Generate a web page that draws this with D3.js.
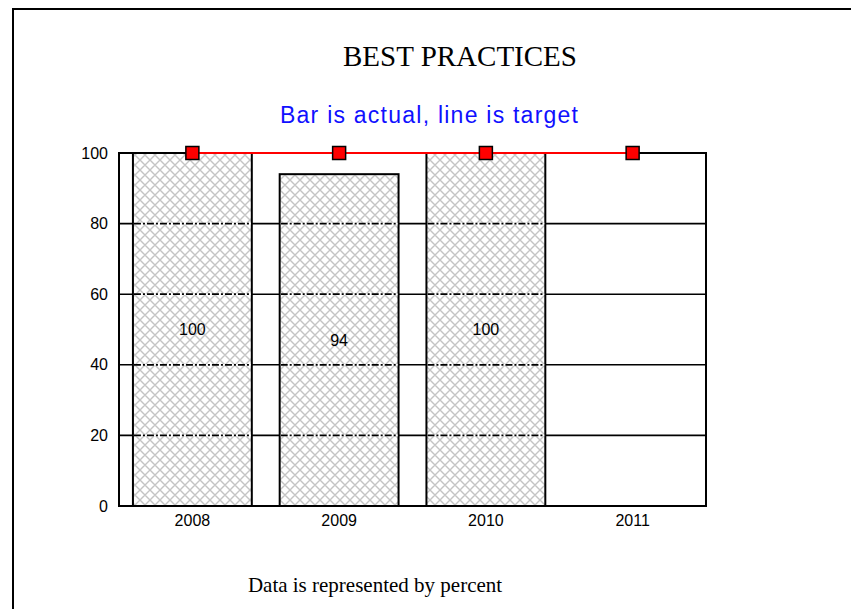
<!DOCTYPE html>
<meta charset="utf-8">
<style>
  body { margin: 0; background: #fff; }
</style>
<script src="https://d3js.org/d3.v7.min.js"></script>

<div id="my_chart"></div>

<script>

// Data
var years = ["2008", "2009", "2010", "2011"];
var actual = [100, 94, 100, null];
var target = [100, 100, 100, 100];
var yTicks = [0, 20, 40, 60, 80, 100];
var gridValues = [20, 40, 60, 80];

var width = 851, height = 609;
var plot = {left: 119, right: 706, top: 153, bottom: 506};

var svg = d3.select("#my_chart")
  .append("svg")
    .attr("width", width)
    .attr("height", height);

// hatch pattern for the bars
var defs = svg.append("defs");
var pat = defs.append("pattern")
    .attr("id", "hatch")
    .attr("patternUnits", "userSpaceOnUse")
    .attr("width", 10)
    .attr("height", 10);
pat.append("rect")
    .attr("width", 10).attr("height", 10)
    .attr("fill", "#fff");
pat.append("path")
    .attr("d", "M0,0 L10,10 M10,0 L0,10 M-5,5 L5,15 M5,-5 L15,5 M5,15 L15,5 M-5,5 L5,-5")
    .attr("stroke", "#c4c4c4")
    .attr("stroke-width", 1.4);

// outer frame (left and top edges only)
svg.append("path")
    .attr("d", "M13," + height + " L13,9 L" + width + ",9")
    .attr("fill", "none")
    .attr("stroke", "#000")
    .attr("stroke-width", 2);

// titles
svg.append("text")
    .attr("x", 460).attr("y", 66)
    .attr("text-anchor", "middle")
    .style("font-family", "'Liberation Serif', 'Times New Roman', serif")
    .style("font-size", "29px")
    .text("BEST PRACTICES");

svg.append("text")
    .attr("x", 280).attr("y", 123)
    .attr("textLength", 298)
    .attr("lengthAdjust", "spacing")
    .attr("fill", "#1010ff")
    .style("font-family", "'Liberation Sans', Arial, sans-serif")
    .style("font-size", "23px")
    .text("Bar is actual, line is target");

svg.append("text")
    .attr("x", 375).attr("y", 592)
    .attr("text-anchor", "middle")
    .style("font-family", "'Liberation Serif', 'Times New Roman', serif")
    .style("font-size", "21px")
    .text("Data is represented by percent");

// scales
var x = d3.scaleBand()
  .domain(years)
  .range([plot.left, plot.right])
  .paddingInner(0.19)
  .paddingOuter(0.095);

var y = d3.scaleLinear()
  .domain([0, 100])
  .range([plot.bottom, plot.top]);

var g = svg.append("g");

// solid grid lines
g.selectAll(".grid")
  .data(gridValues)
  .enter()
  .append("line")
    .attr("x1", plot.left).attr("x2", plot.right)
    .attr("y1", function(d) { return y(d); })
    .attr("y2", function(d) { return y(d); })
    .attr("stroke", "#000")
    .attr("stroke-width", 1.6);

// bars
var barData = years.map(function(d, i) { return {year: d, value: actual[i]}; })
  .filter(function(d) { return d.value != null; });

g.selectAll(".bar")
  .data(barData)
  .enter()
  .append("rect")
    .attr("x", function(d) { return x(d.year); })
    .attr("y", function(d) { return y(d.value); })
    .attr("width", x.bandwidth())
    .attr("height", function(d) { return y(0) - y(d.value); })
    .attr("fill", "url(#hatch)")
    .attr("stroke", "#000")
    .attr("stroke-width", 2);

// dashed grid inside bars
barData.forEach(function(b) {
  gridValues.filter(function(v) { return v < b.value; }).forEach(function(v) {
    g.append("line")
      .attr("x1", x(b.year) + 1).attr("x2", x(b.year) + x.bandwidth() - 1)
      .attr("y1", y(v)).attr("y2", y(v))
      .attr("stroke", "#fff")
      .attr("stroke-width", 1.6);
    g.append("line")
      .attr("x1", x(b.year) + 1).attr("x2", x(b.year) + x.bandwidth() - 1)
      .attr("y1", y(v)).attr("y2", y(v))
      .attr("stroke", "#000")
      .attr("stroke-width", 1.8)
      .attr("stroke-dasharray", "7,2,2,2");
  });
});

// value labels
g.selectAll(".lbl")
  .data(barData)
  .enter()
  .append("text")
    .attr("x", function(d) { return x(d.year) + x.bandwidth() / 2; })
    .attr("y", function(d) { return (y(d.value) + y(0)) / 2; })
    .attr("dy", "0.35em")
    .attr("text-anchor", "middle")
    .style("font-family", "'Liberation Sans', Arial, sans-serif")
    .style("font-size", "16px")
    .text(function(d) { return d.value; });

// plot frame
g.append("rect")
    .attr("x", plot.left).attr("y", plot.top)
    .attr("width", plot.right - plot.left)
    .attr("height", plot.bottom - plot.top)
    .attr("fill", "none")
    .attr("stroke", "#000")
    .attr("stroke-width", 2);

// axes
var yAxis = svg.append("g")
    .attr("transform", "translate(" + plot.left + ",0)")
    .call(d3.axisLeft(y).tickValues(yTicks).tickSize(0).tickPadding(11));
var xAxis = svg.append("g")
    .attr("transform", "translate(0," + plot.bottom + ")")
    .call(d3.axisBottom(x).tickSize(0).tickPadding(9));
[yAxis, xAxis].forEach(function(a) {
  a.select(".domain").remove();
  a.selectAll("text")
    .attr("fill", "#000")
    .style("font-family", "'Liberation Sans', Arial, sans-serif")
    .style("font-size", "16px");
});

// target line with square markers
var line = d3.line()
  .x(function(d, i) { return x(years[i]) + x.bandwidth() / 2; })
  .y(function(d) { return y(d); });

g.append("path")
    .datum(target)
    .attr("d", line)
    .attr("fill", "none")
    .attr("stroke", "#ff0000")
    .attr("stroke-width", 2);

g.selectAll(".mark")
  .data(target)
  .enter()
  .append("rect")
    .attr("x", function(d, i) { return x(years[i]) + x.bandwidth() / 2 - 6.5; })
    .attr("y", function(d) { return y(d) - 6.5; })
    .attr("width", 13)
    .attr("height", 13)
    .attr("fill", "#ff0000")
    .attr("stroke", "#000")
    .attr("stroke-width", 1.5);

</script>
